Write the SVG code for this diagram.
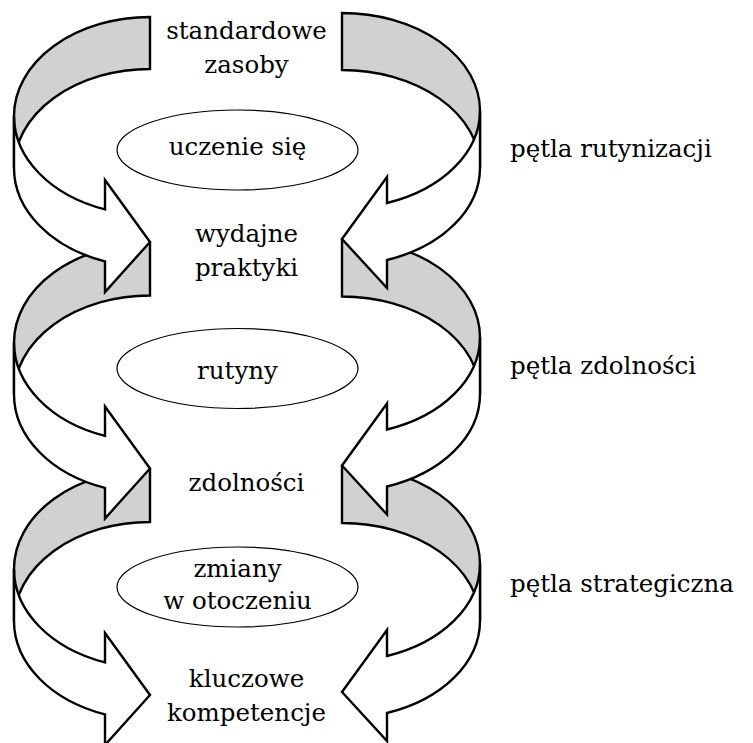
<svg xmlns="http://www.w3.org/2000/svg" xmlns:xlink="http://www.w3.org/1999/xlink" width="753" height="743" viewBox="0 0 753 743">
  <style>
    .back { fill: #d1d1d1; stroke: #000; stroke-width: 2.4; stroke-linejoin: miter; }
    .front { fill: #fff; stroke: #000; stroke-width: 2.4; stroke-linejoin: miter; }
    .oval { fill: #fff; stroke: #000; stroke-width: 1.2; }
    .t { font-family: 'DejaVu Serif', serif; font-size: 24.5px; fill: #000; }
    .c { text-anchor: middle; }
  </style>
  <defs>
    <path id="backL" d="M150,17 A136,99 0 0 0 14,116 L14,168 A136,99 0 0 1 150,69 Z"/>
    <path id="frontL" d="M14,116 A136,99 0 0 0 105,209.4 L105,180 L150,242 L105,292 L105,261.4 A136,99 0 0 1 14,168 Z"/>
    <path id="backR" d="M342,13 A138,97.7 0 0 1 480,110.7 L480,167.7 A138,97.7 0 0 0 342,70 Z"/>
    <path id="frontR" d="M480,110.7 A138,97.7 0 0 1 387,203 L387,177 L342,239 L387,288 L387,260 A138,97.7 0 0 0 480,167.7 Z"/>
  </defs>
  <rect width="753" height="743" fill="#fff"/>
  <g id="connectors">
    <g id="backs" class="back">
      <use xlink:href="#backL"/>
      <use xlink:href="#backR"/>
      <use xlink:href="#backL" transform="translate(0,226.5)"/>
      <use xlink:href="#backR" transform="translate(0,226.5)"/>
      <use xlink:href="#backL" transform="translate(0,453)"/>
      <use xlink:href="#backR" transform="translate(0,453)"/>
    </g>
    <g id="fronts" class="front">
      <use xlink:href="#frontL"/>
      <use xlink:href="#frontR"/>
      <use xlink:href="#frontL" transform="translate(0,226.5)"/>
      <use xlink:href="#frontR" transform="translate(0,226.5)"/>
      <use xlink:href="#frontL" transform="translate(0,453)"/>
      <use xlink:href="#frontR" transform="translate(0,453)"/>
    </g>
  </g>
  <g id="node-standardowe-zasoby" class="t c">
    <text x="246.5" y="39">standardowe</text>
    <text x="246.5" y="73">zasoby</text>
  </g>
  <g id="node-uczenie-sie">
    <ellipse class="oval" cx="237.5" cy="150" rx="120.5" ry="40"/>
    <text class="t c" x="237.5" y="155">uczenie się</text>
  </g>
  <g id="node-wydajne-praktyki" class="t c">
    <text x="246.5" y="242">wydajne</text>
    <text x="246.5" y="276">praktyki</text>
  </g>
  <g id="node-rutyny">
    <ellipse class="oval" cx="237.5" cy="368.5" rx="120.5" ry="40"/>
    <text class="t c" x="237.5" y="379">rutyny</text>
  </g>
  <g id="node-zdolnosci" class="t c">
    <text x="246.5" y="491">zdolności</text>
  </g>
  <g id="node-zmiany">
    <ellipse class="oval" cx="237.5" cy="587" rx="120.5" ry="40"/>
    <text class="t c" x="237.5" y="577">zmiany</text>
    <text class="t c" x="237.5" y="609">w otoczeniu</text>
  </g>
  <g id="node-kluczowe-kompetencje" class="t c">
    <text x="246.5" y="687">kluczowe</text>
    <text x="246.5" y="721">kompetencje</text>
  </g>
  <g id="node-petla-rutynizacji" class="t">
    <text x="510" y="157">pętla rutynizacji</text>
  </g>
  <g id="node-petla-zdolnosci" class="t">
    <text x="510" y="374">pętla zdolności</text>
  </g>
  <g id="node-petla-strategiczna" class="t">
    <text x="510" y="592">pętla strategiczna</text>
  </g>
</svg>
